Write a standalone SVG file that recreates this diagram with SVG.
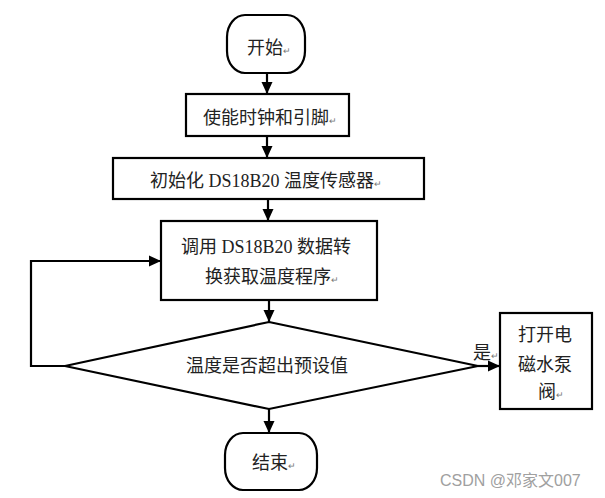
<svg xmlns="http://www.w3.org/2000/svg" width="605" height="498" viewBox="0 0 605 498">
<defs>
<marker id="arr" markerUnits="userSpaceOnUse" markerWidth="12" markerHeight="12" viewBox="0 0 12 12" refX="12" refY="6" orient="auto">
<path d="M0,0.5 L12,6 L0,11.5 Z" fill="#000"/>
</marker>
<style>
.shape{fill:#fff;stroke:#000;stroke-width:2.2}
.conn{fill:none;stroke:#000;stroke-width:2.2;marker-end:url(#arr)}
.t{font-family:"Liberation Serif","Noto Sans CJK SC",serif;font-size:18px;fill:#222}
.pm{font-size:9px;fill:#777}
.wm{font-family:"Liberation Sans","Noto Sans CJK SC",sans-serif;font-size:16px;fill:#a0a0a0}
</style>
</defs>
<rect width="605" height="498" fill="#fff"/>
<g id="start">
<rect class="shape" x="227" y="15" width="78" height="58" rx="18" ry="22"/>
<text class="t" x="247" y="54">开始<tspan class="pm">↵</tspan></text>
</g>
<g id="enable">
<rect class="shape" x="186" y="94" width="163" height="42"/>
<text class="t" x="203" y="124">使能时钟和引脚<tspan class="pm">↵</tspan></text>
</g>
<g id="init">
<rect class="shape" x="113" y="158" width="311" height="41"/>
<text class="t" x="150" y="187">初始化 DS18B20 温度传感器<tspan class="pm">↵</tspan></text>
</g>
<g id="read">
<rect class="shape" x="161" y="221" width="216" height="79"/>
<text class="t" x="181" y="253">调用 DS18B20 数据转</text>
<text class="t" x="205" y="283">换获取温度程序<tspan class="pm">↵</tspan></text>
</g>
<g id="decision">
<polygon class="shape" points="269,322 478,366 269,409 65,366"/>
<text class="t" x="186" y="372">温度是否超出预设值</text>
</g>
<g id="valve">
<rect class="shape" x="500" y="313" width="92" height="96"/>
<text class="t" x="518" y="341">打开电</text>
<text class="t" x="518" y="371">磁水泵</text>
<text class="t" x="538" y="398">阀<tspan class="pm">↵</tspan></text>
</g>
<g id="end">
<rect class="shape" x="225" y="433" width="92" height="57" rx="18" ry="22"/>
<text class="t" x="252" y="469">结束<tspan class="pm">↵</tspan></text>
</g>
<g id="connectors">
<line class="conn" x1="267" y1="73" x2="267" y2="94"/>
<line class="conn" x1="267" y1="136" x2="267" y2="158"/>
<line class="conn" x1="268" y1="199" x2="268" y2="221"/>
<line class="conn" x1="269" y1="300" x2="269" y2="322"/>
<line class="conn" x1="269" y1="409" x2="269" y2="433"/>
<line class="conn" x1="478" y1="366" x2="500" y2="366"/>
<polyline class="conn" points="65,366 31,366 31,261 161,261"/>
<text class="t" x="473" y="359">是<tspan class="pm">↵</tspan></text>
</g>
<text class="wm" x="440" y="486">CSDN @邓家文007</text>
</svg>
